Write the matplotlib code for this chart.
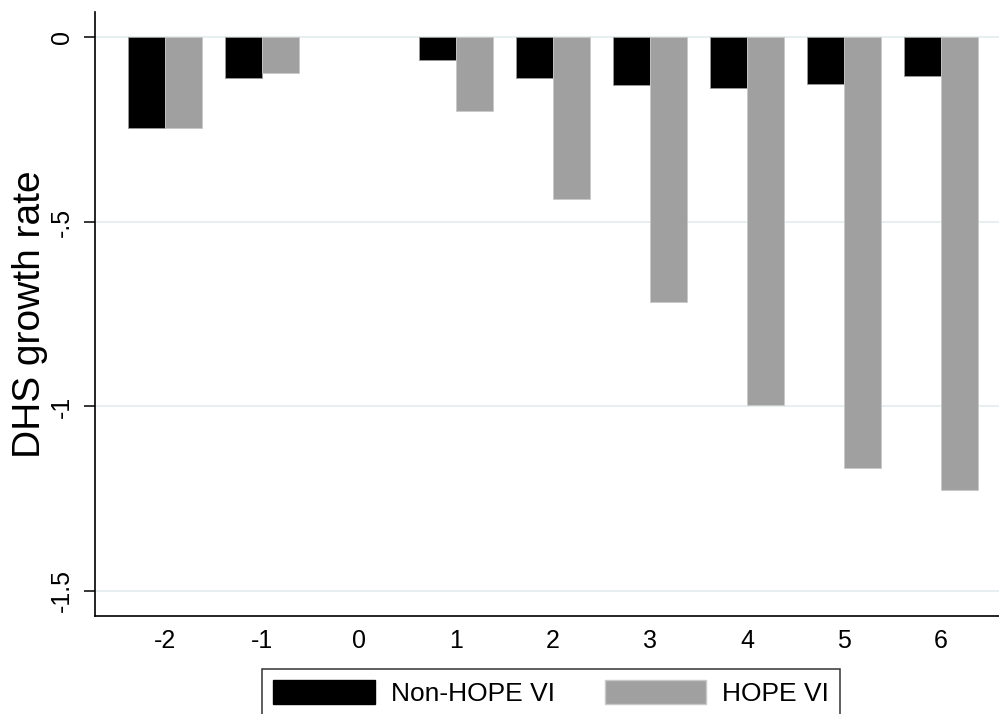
import numpy as np
import matplotlib
matplotlib.use("Agg")
import matplotlib.pyplot as plt
from matplotlib.patches import Patch

plt.rcParams["font.family"] = ["Liberation Sans", "DejaVu Sans"]

# Event time (years relative to treatment)
periods = [-2, -1, 0, 1, 2, 3, 4, 5, 6]
period_labels = ["-2", "-1", "0", "1", "2", "3", "4", "5", "6"]

# DHS growth rate by group (no estimate for period 0)
non_hope = [-0.246, -0.109, np.nan, -0.062, -0.110, -0.129, -0.137, -0.125, -0.104]
hope = [-0.246, -0.095, np.nan, -0.199, -0.437, -0.717, -0.996, -1.167, -1.226]

y_ticks = [0, -0.5, -1, -1.5]
y_tick_labels = ["0", "-.5", "-1", "-1.5"]

series_names = ["Non-HOPE VI", "HOPE VI"]
colors = ["#000000", "#a0a0a0"]

fig = plt.figure(figsize=(9.99, 7.14), dpi=100)
ax = fig.add_axes([95 / 999, 1 - 616 / 714, 904 / 999, 604 / 714])

x = np.arange(len(periods), dtype=float)
w = 0.38
ax.bar(x - w / 2, non_hope, width=w, color=colors[0], edgecolor="#9a9a9a",
       linewidth=0.6, zorder=3)
ax.bar(x + w / 2, hope, width=w, color=colors[1], edgecolor="#c8c8c8",
       linewidth=0.6, zorder=3)

for yv in y_ticks:
    ax.axhline(yv, color="#e8eff1", linewidth=1.4, zorder=1)

ax.set_xlim(-0.722, 8.598)
ax.set_ylim(-1.568, 0.069)

ax.set_xticks(x)
ax.set_xticklabels(period_labels, fontsize=18)
ax.tick_params(axis="x", length=0, pad=9)

ax.set_yticks(y_ticks)
ax.set_yticklabels(y_tick_labels, fontsize=18, rotation=90, va="center")
ax.tick_params(axis="y", length=8, width=1.1, pad=7, color="black")

ax.set_ylabel("DHS growth rate", fontsize=28, labelpad=1.5)

for side in ["top", "right"]:
    ax.spines[side].set_visible(False)
for side in ["left", "bottom"]:
    ax.spines[side].set_linewidth(1.2)
    ax.spines[side].set_color("black")

handles = [Patch(facecolor=c, edgecolor="#c8c8c8" if c != "#000000" else "#000000")
           for c in colors]
leg = fig.legend(handles, series_names, loc="upper left",
                 bbox_to_anchor=(262 / 999, 1 - 669 / 714),
                 ncol=2, fontsize=19, frameon=True, fancybox=False,
                 handlelength=3.85, handleheight=1.0, handletextpad=0.6,
                 columnspacing=1.9, borderpad=0.42, borderaxespad=0.0)
frame = leg.get_frame()
frame.set_edgecolor("black")
frame.set_linewidth(1.1)
frame.set_boxstyle("square", pad=0)

fig.savefig("out.png", dpi=100, facecolor="white")
